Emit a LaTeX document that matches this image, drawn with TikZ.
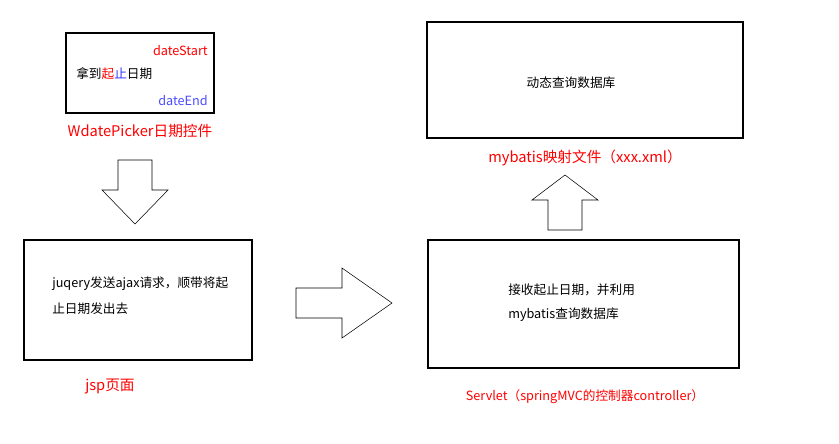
\documentclass[tikz,border=0pt]{standalone}
\usepackage{fontspec}
\setmainfont{Noto Sans CJK SC}
\begin{document}
\begin{tikzpicture}[x=0.75pt,y=-0.75pt,
  box/.style={draw,thick},
  fat/.style={draw,fill=white},
  txt/.style={font=\fontsize{9.5}{14}\selectfont,anchor=west,inner sep=0pt},
  lab/.style={text=red,font=\fontsize{11}{13}\selectfont,inner sep=0pt}]
\useasboundingbox (0,0) rectangle (839,443);

\draw[box] (66,33) rectangle (214,113);
\node[txt,text=red,anchor=east] (ds) at (208,51) {dateStart};
\node[txt] (nd) at (76,74) {拿到\textcolor{red}{起}\textcolor{blue!80}{止}日期};
\node[txt,text=blue!70,anchor=east] (de) at (208,101) {dateEnd};
\node[lab] (wdp) at (140,131) {WdatePicker日期控件};

\draw[box] (427,22) rectangle (743,138);
\node[txt,anchor=center] (dyn) at (571,83) {动态查询数据库};
\node[lab] (mb) at (585,158) {mybatis映射文件（xxx.xml）};

\draw[box] (24,240) rectangle (252,360);
\node[txt] (j1) at (52,284) {juqery发送ajax请求，顺带将起};
\node[txt] (j2) at (52,309) {止日期发出去};
\node[lab] (jsp) at (110,387) {jsp页面};

\draw[box] (428,240) rectangle (739,368);
\node[txt] (s1) at (508,290) {接收起止日期，并利用};
\node[txt] (s2) at (508,315) {mybatis查询数据库};
\node[lab,font=\fontsize{9.5}{12}\selectfont] (srv) at (585,397) {Servlet（springMVC的控制器controller）};

% block arrows
\draw[fat] (118,160) -- (152,160) -- (152,190) -- (168,190) -- (135,224)
  -- (102,190) -- (118,190) -- cycle;
\draw[fat] (296,288) -- (342,288) -- (342,268) -- (392,303) -- (342,338)
  -- (342,318) -- (296,318) -- cycle;
\draw[fat] (548,230) -- (582,230) -- (582,200) -- (598,200) -- (565,175)
  -- (532,200) -- (548,200) -- cycle;
\end{tikzpicture}
\end{document}
